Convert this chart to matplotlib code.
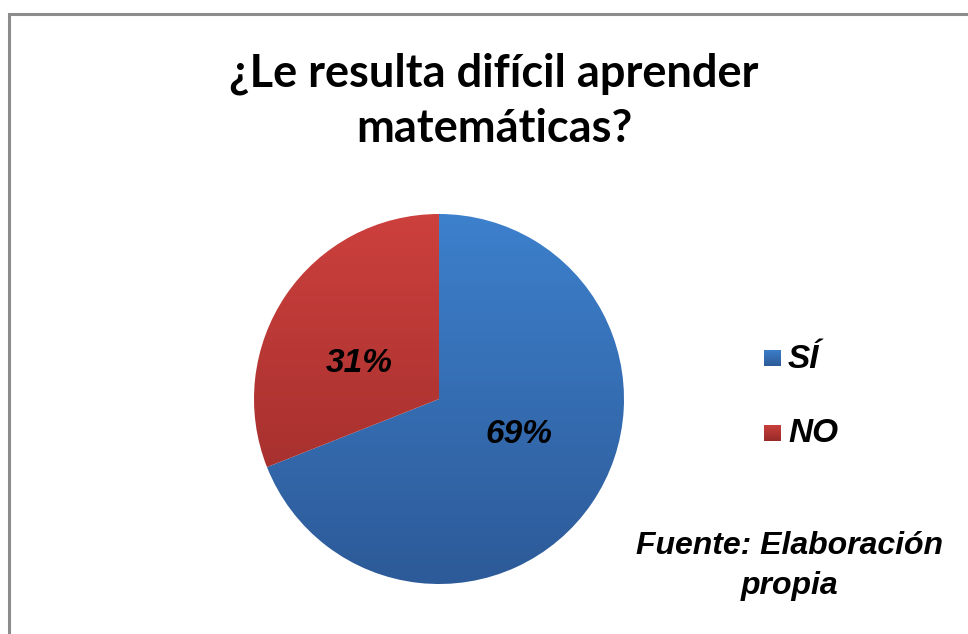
import numpy as np
import matplotlib
matplotlib.use("Agg")
from matplotlib import pyplot as plt
from matplotlib.colors import LinearSegmentedColormap
from matplotlib.patches import Rectangle

# datos del gráfico
etiquetas = ["SÍ", "NO"]
porcentajes = [69, 31]
colores_arriba = ["#3D80CC", "#CC403D"]
colores_abajo = ["#2D5A98", "#972A28"]
titulo = "¿Le resulta difícil aprender\nmatemáticas?"
fuente = "Fuente: Elaboración\npropia"

W, H = 968, 634
fig = plt.figure(figsize=(W / 100, H / 100), dpi=100)
fig.patch.set_facecolor("white")

# marco gris
fig.patches.append(Rectangle((8.5 / W, -0.01), 1.0, (H - 13.5) / H + 0.01,
                             transform=fig.transFigure, fill=False,
                             edgecolor="#8c8c8c", linewidth=2.2))

# título
fig.text(494 / W, 1 - 101 / H, titulo, ha="center", va="center",
         fontsize=32.5, fontweight="bold", family="Lato", linespacing=1.38)

# gráfico circular
cx, cy, r = 439, 399, 185
ax = fig.add_axes([(cx - r) / W, (H - cy - r) / H, 2 * r / W, 2 * r / H])
wedges, textos = ax.pie(porcentajes, startangle=90, counterclock=False, radius=1)
ax.set_xlim(-1, 1)
ax.set_ylim(-1, 1)
ax.set_aspect("equal")
ax.axis("off")

# degradado vertical dentro de cada sector
grad = np.linspace(0, 1, 256).reshape(-1, 1)
for w, c1, c2 in zip(wedges, colores_arriba, colores_abajo):
    w.set_facecolor("none")
    w.set_edgecolor("none")
    cmap = LinearSegmentedColormap.from_list("g", [c1, c2])
    im = ax.imshow(grad, cmap=cmap, extent=[-1, 1, -1, 1], origin="upper",
                   aspect="auto", zorder=1)
    im.set_clip_path(w)

# etiquetas de porcentaje
ang = 90
for p, w in zip(porcentajes, wedges):
    mid = np.deg2rad(ang - p * 3.6 / 2)
    ang -= p * 3.6
    ax.text(0.52 * np.cos(mid), 0.52 * np.sin(mid) + 0.1 * np.sign(np.cos(mid)),
            f"{p}%", ha="center", va="center", fontsize=24, fontweight="bold",
            style="italic", family="Liberation Sans", zorder=3)

# leyenda
for i, (lab, c1, c2) in enumerate(zip(etiquetas, colores_arriba, colores_abajo)):
    y = 358 + i * 75
    sq = fig.add_axes([764 / W, 1 - (y + 8.5) / H, 17 / W, 17 / H])
    sq.imshow(grad, cmap=LinearSegmentedColormap.from_list("s", [c1, c2]),
              aspect="auto")
    sq.axis("off")
    fig.text(788 / W, 1 - (y + 1) / H, lab, ha="left", va="center", fontsize=24,
             fontweight="bold", style="italic", family="Liberation Sans")

# fuente
fig.text(790 / W, 1 - 566 / H, fuente, ha="center", va="center", fontsize=23,
         fontweight="bold", style="italic", family="Liberation Sans",
         linespacing=1.45)

fig.savefig("out.png", dpi=100)
